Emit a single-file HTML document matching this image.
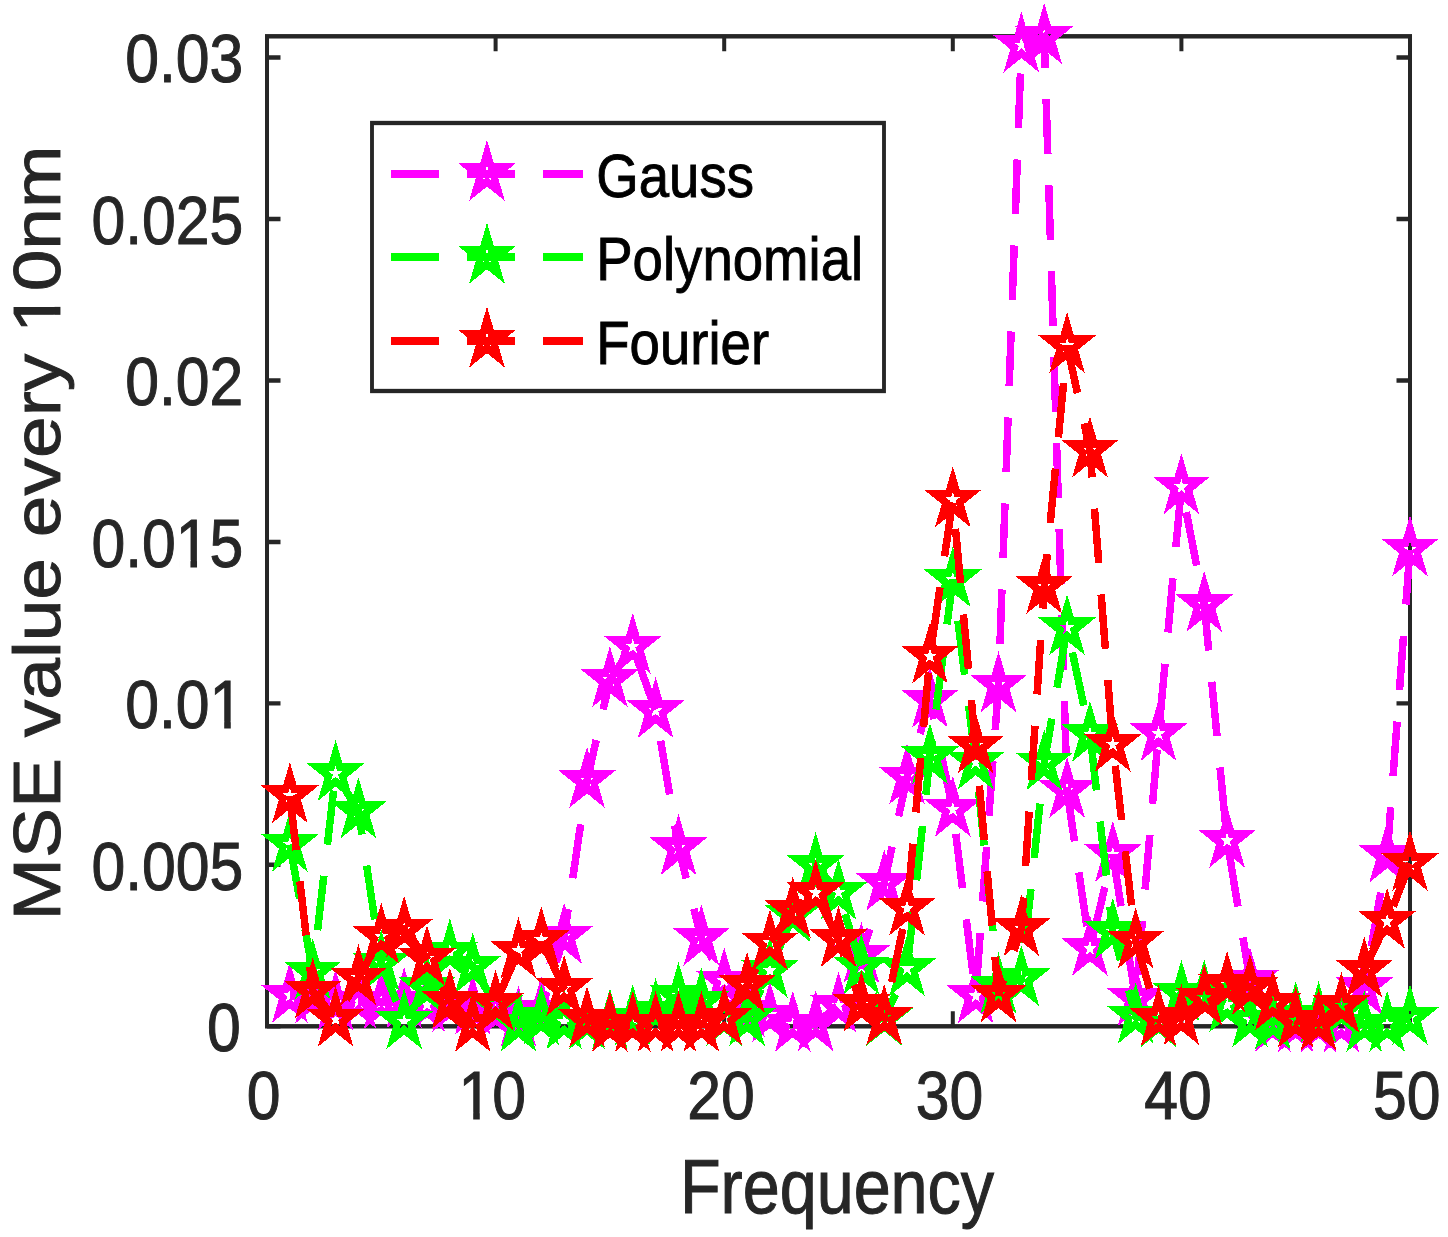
<!DOCTYPE html>
<html lang="en">
<head>
<meta charset="utf-8">
<title>MSE value every 10nm vs Frequency</title>
<style>
html,body{margin:0;padding:0;background:#fff;}
body{width:1448px;height:1237px;overflow:hidden;}
svg{display:block;}
</style>
</head>
<body>
<svg width="1448" height="1237" viewBox="0 0 1448 1237">
<rect width="1448" height="1237" fill="#fff"/>
<g transform="scale(0.9000,1)">
<rect x="296.67" y="36.30" width="1270.00" height="990.00" fill="none" stroke="#262626" stroke-width="4.45"/>
<path d="M296.67,1026.30V1011.30M296.67,36.30V51.30M550.67,1026.30V1011.30M550.67,36.30V51.30M804.67,1026.30V1011.30M804.67,36.30V51.30M1058.67,1026.30V1011.30M1058.67,36.30V51.30M1312.67,1026.30V1011.30M1312.67,36.30V51.30M1566.67,1026.30V1011.30M1566.67,36.30V51.30M296.67,1026.30H311.67M1566.67,1026.30H1551.67M296.67,864.83H311.67M1566.67,864.83H1551.67M296.67,703.37H311.67M1566.67,703.37H1551.67M296.67,541.90H311.67M1566.67,541.90H1551.67M296.67,380.43H311.67M1566.67,380.43H1551.67M296.67,218.97H311.67M1566.67,218.97H1551.67M296.67,57.50H311.67M1566.67,57.50H1551.67" fill="none" stroke="#262626" stroke-width="4.45"/>
<g shape-rendering="crispEdges">
<polyline fill="none" stroke="#ff00ff" stroke-width="8.33" stroke-dasharray="54.6,31.46" stroke-dashoffset="9.50" stroke-linejoin="miter" points="322.07,995.50 347.47,996.50 372.87,1003.00 398.27,1001.30 423.67,1002.00 449.07,1001.00 474.47,1004.40 499.87,1005.00 525.27,1007.50 550.67,1012.00 576.07,1019.50 601.47,1010.00 626.87,936.50 652.27,780.60 677.67,679.90 703.07,646.50 728.47,710.70 753.87,847.80 779.27,938.30 804.67,981.00 830.07,1010.00 855.47,1015.00 880.87,1024.50 906.27,1024.00 931.67,1005.30 957.07,955.60 982.47,883.20 1007.87,777.00 1033.27,700.20 1058.67,809.50 1084.07,995.90 1109.47,685.00 1134.87,45.20 1160.27,36.80 1185.67,790.50 1211.07,948.50 1236.47,854.60 1261.87,998.60 1287.27,733.70 1312.67,487.00 1338.07,604.70 1363.47,840.40 1388.87,980.70 1414.27,1024.50 1439.67,1025.00 1465.07,1025.00 1490.47,1025.00 1515.87,987.70 1541.27,855.30 1566.67,549.10"/>
<path fill="none" stroke="#ff00ff" stroke-width="7.93" stroke-linejoin="miter" stroke-miterlimit="10" d="M322.07,974.55L326.77,989.03L341.99,989.03L329.68,997.97L334.38,1012.45L322.07,1003.50L309.75,1012.45L314.46,997.97L302.14,989.03L317.36,989.03ZM347.47,975.55L352.17,990.03L367.39,990.03L355.08,998.97L359.78,1013.45L347.47,1004.50L335.15,1013.45L339.86,998.97L327.54,990.03L342.76,990.03ZM372.87,982.05L377.57,996.53L392.79,996.53L380.48,1005.47L385.18,1019.95L372.87,1011.00L360.55,1019.95L365.26,1005.47L352.94,996.53L368.16,996.53ZM398.27,980.35L402.97,994.83L418.19,994.83L405.88,1003.77L410.58,1018.25L398.27,1009.30L385.95,1018.25L390.66,1003.77L378.34,994.83L393.56,994.83ZM423.67,981.05L428.37,995.53L443.59,995.53L431.28,1004.47L435.98,1018.95L423.67,1010.00L411.35,1018.95L416.06,1004.47L403.74,995.53L418.96,995.53ZM449.07,980.05L453.77,994.53L468.99,994.53L456.68,1003.47L461.38,1017.95L449.07,1009.00L436.75,1017.95L441.46,1003.47L429.14,994.53L444.36,994.53ZM474.47,983.45L479.17,997.93L494.39,997.93L482.08,1006.87L486.78,1021.35L474.47,1012.40L462.15,1021.35L466.86,1006.87L454.54,997.93L469.76,997.93ZM499.87,984.05L504.57,998.53L519.79,998.53L507.48,1007.47L512.18,1021.95L499.87,1013.00L487.55,1021.95L492.26,1007.47L479.94,998.53L495.16,998.53ZM525.27,986.55L529.97,1001.03L545.19,1001.03L532.88,1009.97L537.58,1024.45L525.27,1015.50L512.95,1024.45L517.66,1009.97L505.34,1001.03L520.56,1001.03ZM550.67,991.05L555.37,1005.53L570.59,1005.53L558.28,1014.47L562.98,1028.95L550.67,1020.00L538.35,1028.95L543.06,1014.47L530.74,1005.53L545.96,1005.53ZM576.07,998.55L580.77,1013.03L595.99,1013.03L583.68,1021.97L588.38,1036.45L576.07,1027.50L563.75,1036.45L568.46,1021.97L556.14,1013.03L571.36,1013.03ZM601.47,989.05L606.17,1003.53L621.39,1003.53L609.08,1012.47L613.78,1026.95L601.47,1018.00L589.15,1026.95L593.86,1012.47L581.54,1003.53L596.76,1003.53ZM626.87,915.55L631.57,930.03L646.79,930.03L634.48,938.97L639.18,953.45L626.87,944.50L614.55,953.45L619.26,938.97L606.94,930.03L622.16,930.03ZM652.27,759.65L656.97,774.13L672.19,774.13L659.88,783.07L664.58,797.55L652.27,788.60L639.95,797.55L644.66,783.07L632.34,774.13L647.56,774.13ZM677.67,658.95L682.37,673.43L697.59,673.43L685.28,682.37L689.98,696.85L677.67,687.90L665.35,696.85L670.06,682.37L657.74,673.43L672.96,673.43ZM703.07,625.55L707.77,640.03L722.99,640.03L710.68,648.97L715.38,663.45L703.07,654.50L690.75,663.45L695.46,648.97L683.14,640.03L698.36,640.03ZM728.47,689.75L733.17,704.23L748.39,704.23L736.08,713.17L740.78,727.65L728.47,718.70L716.15,727.65L720.86,713.17L708.54,704.23L723.76,704.23ZM753.87,826.85L758.57,841.33L773.79,841.33L761.48,850.27L766.18,864.75L753.87,855.80L741.55,864.75L746.26,850.27L733.94,841.33L749.16,841.33ZM779.27,917.35L783.97,931.83L799.19,931.83L786.88,940.77L791.58,955.25L779.27,946.30L766.95,955.25L771.66,940.77L759.34,931.83L774.56,931.83ZM804.67,960.05L809.37,974.53L824.59,974.53L812.28,983.47L816.98,997.95L804.67,989.00L792.35,997.95L797.06,983.47L784.74,974.53L799.96,974.53ZM830.07,989.05L834.77,1003.53L849.99,1003.53L837.68,1012.47L842.38,1026.95L830.07,1018.00L817.75,1026.95L822.46,1012.47L810.14,1003.53L825.36,1003.53ZM855.47,994.05L860.17,1008.53L875.39,1008.53L863.08,1017.47L867.78,1031.95L855.47,1023.00L843.15,1031.95L847.86,1017.47L835.54,1008.53L850.76,1008.53ZM880.87,1003.55L885.57,1018.03L900.79,1018.03L888.48,1026.97L893.18,1041.45L880.87,1032.50L868.55,1041.45L873.26,1026.97L860.94,1018.03L876.16,1018.03ZM906.27,1003.05L910.97,1017.53L926.19,1017.53L913.88,1026.47L918.58,1040.95L906.27,1032.00L893.95,1040.95L898.66,1026.47L886.34,1017.53L901.56,1017.53ZM931.67,984.35L936.37,998.83L951.59,998.83L939.28,1007.77L943.98,1022.25L931.67,1013.30L919.35,1022.25L924.06,1007.77L911.74,998.83L926.96,998.83ZM957.07,934.65L961.77,949.13L976.99,949.13L964.68,958.07L969.38,972.55L957.07,963.60L944.75,972.55L949.46,958.07L937.14,949.13L952.36,949.13ZM982.47,862.25L987.17,876.73L1002.39,876.73L990.08,885.67L994.78,900.15L982.47,891.20L970.15,900.15L974.86,885.67L962.54,876.73L977.76,876.73ZM1007.87,756.05L1012.57,770.53L1027.79,770.53L1015.48,779.47L1020.18,793.95L1007.87,785.00L995.55,793.95L1000.26,779.47L987.94,770.53L1003.16,770.53ZM1033.27,679.25L1037.97,693.73L1053.19,693.73L1040.88,702.67L1045.58,717.15L1033.27,708.20L1020.95,717.15L1025.66,702.67L1013.34,693.73L1028.56,693.73ZM1058.67,788.55L1063.37,803.03L1078.59,803.03L1066.28,811.97L1070.98,826.45L1058.67,817.50L1046.35,826.45L1051.06,811.97L1038.74,803.03L1053.96,803.03ZM1084.07,974.95L1088.77,989.43L1103.99,989.43L1091.68,998.37L1096.38,1012.85L1084.07,1003.90L1071.75,1012.85L1076.46,998.37L1064.14,989.43L1079.36,989.43ZM1109.47,664.05L1114.17,678.53L1129.39,678.53L1117.08,687.47L1121.78,701.95L1109.47,693.00L1097.15,701.95L1101.86,687.47L1089.54,678.53L1104.76,678.53ZM1134.87,24.25L1139.57,38.73L1154.79,38.73L1142.48,47.67L1147.18,62.15L1134.87,53.20L1122.55,62.15L1127.26,47.67L1114.94,38.73L1130.16,38.73ZM1160.27,15.85L1164.97,30.33L1180.19,30.33L1167.88,39.27L1172.58,53.75L1160.27,44.80L1147.95,53.75L1152.66,39.27L1140.34,30.33L1155.56,30.33ZM1185.67,769.55L1190.37,784.03L1205.59,784.03L1193.28,792.97L1197.98,807.45L1185.67,798.50L1173.35,807.45L1178.06,792.97L1165.74,784.03L1180.96,784.03ZM1211.07,927.55L1215.77,942.03L1230.99,942.03L1218.68,950.97L1223.38,965.45L1211.07,956.50L1198.75,965.45L1203.46,950.97L1191.14,942.03L1206.36,942.03ZM1236.47,833.65L1241.17,848.13L1256.39,848.13L1244.08,857.07L1248.78,871.55L1236.47,862.60L1224.15,871.55L1228.86,857.07L1216.54,848.13L1231.76,848.13ZM1261.87,977.65L1266.57,992.13L1281.79,992.13L1269.48,1001.07L1274.18,1015.55L1261.87,1006.60L1249.55,1015.55L1254.26,1001.07L1241.94,992.13L1257.16,992.13ZM1287.27,712.75L1291.97,727.23L1307.19,727.23L1294.88,736.17L1299.58,750.65L1287.27,741.70L1274.95,750.65L1279.66,736.17L1267.34,727.23L1282.56,727.23ZM1312.67,466.05L1317.37,480.53L1332.59,480.53L1320.28,489.47L1324.98,503.95L1312.67,495.00L1300.35,503.95L1305.06,489.47L1292.74,480.53L1307.96,480.53ZM1338.07,583.75L1342.77,598.23L1357.99,598.23L1345.68,607.17L1350.38,621.65L1338.07,612.70L1325.75,621.65L1330.46,607.17L1318.14,598.23L1333.36,598.23ZM1363.47,819.45L1368.17,833.93L1383.39,833.93L1371.08,842.87L1375.78,857.35L1363.47,848.40L1351.15,857.35L1355.86,842.87L1343.54,833.93L1358.76,833.93ZM1388.87,959.75L1393.57,974.23L1408.79,974.23L1396.48,983.17L1401.18,997.65L1388.87,988.70L1376.55,997.65L1381.26,983.17L1368.94,974.23L1384.16,974.23ZM1414.27,1003.55L1418.97,1018.03L1434.19,1018.03L1421.88,1026.97L1426.58,1041.45L1414.27,1032.50L1401.95,1041.45L1406.66,1026.97L1394.34,1018.03L1409.56,1018.03ZM1439.67,1004.05L1444.37,1018.53L1459.59,1018.53L1447.28,1027.47L1451.98,1041.95L1439.67,1033.00L1427.35,1041.95L1432.06,1027.47L1419.74,1018.53L1434.96,1018.53ZM1465.07,1004.05L1469.77,1018.53L1484.99,1018.53L1472.68,1027.47L1477.38,1041.95L1465.07,1033.00L1452.75,1041.95L1457.46,1027.47L1445.14,1018.53L1460.36,1018.53ZM1490.47,1004.05L1495.17,1018.53L1510.39,1018.53L1498.08,1027.47L1502.78,1041.95L1490.47,1033.00L1478.15,1041.95L1482.86,1027.47L1470.54,1018.53L1485.76,1018.53ZM1515.87,966.75L1520.57,981.23L1535.79,981.23L1523.48,990.17L1528.18,1004.65L1515.87,995.70L1503.55,1004.65L1508.26,990.17L1495.94,981.23L1511.16,981.23ZM1541.27,834.35L1545.97,848.83L1561.19,848.83L1548.88,857.77L1553.58,872.25L1541.27,863.30L1528.95,872.25L1533.66,857.77L1521.34,848.83L1536.56,848.83ZM1566.67,528.15L1571.37,542.63L1586.59,542.63L1574.28,551.57L1578.98,566.05L1566.67,557.10L1554.35,566.05L1559.06,551.57L1546.74,542.63L1561.96,542.63Z"/>
<polyline fill="none" stroke="#00ff00" stroke-width="8.33" stroke-dasharray="54.6,31.46" stroke-dashoffset="0.00" stroke-linejoin="miter" points="322.07,844.60 347.47,972.00 372.87,773.70 398.27,811.10 423.67,963.40 449.07,1021.80 474.47,987.60 499.87,952.00 525.27,966.10 550.67,1005.00 576.07,1024.40 601.47,1017.80 626.87,1022.00 652.27,1022.00 677.67,1022.20 703.07,1018.00 728.47,1011.60 753.87,995.90 779.27,1001.10 804.67,1018.80 830.07,1018.60 855.47,970.60"/>
<polyline fill="none" stroke="#00ff00" stroke-width="8.33" stroke-dasharray="54.6,31.46" stroke-dashoffset="81.89" stroke-linejoin="miter" points="855.47,970.60 880.87,915.00 906.27,865.80 931.67,892.50 957.07,967.00 982.47,1018.50 1007.87,968.80 1033.27,756.90 1058.67,579.90 1084.07,762.30 1109.47,986.00 1134.87,978.90 1160.27,763.00 1185.67,627.90 1211.07,734.40 1236.47,931.50 1261.87,1016.40 1287.27,1020.00 1312.67,993.60 1338.07,993.20 1363.47,1005.00 1388.87,1020.00 1414.27,1022.00 1439.67,1015.00 1465.07,1015.00 1490.47,1010.00 1515.87,1024.50 1541.27,1024.50 1566.67,1017.70"/>
<path fill="none" stroke="#00ff00" stroke-width="7.93" stroke-linejoin="miter" stroke-miterlimit="10" d="M322.07,823.65L326.77,838.13L341.99,838.13L329.68,847.07L334.38,861.55L322.07,852.60L309.75,861.55L314.46,847.07L302.14,838.13L317.36,838.13ZM347.47,951.05L352.17,965.53L367.39,965.53L355.08,974.47L359.78,988.95L347.47,980.00L335.15,988.95L339.86,974.47L327.54,965.53L342.76,965.53ZM372.87,752.75L377.57,767.23L392.79,767.23L380.48,776.17L385.18,790.65L372.87,781.70L360.55,790.65L365.26,776.17L352.94,767.23L368.16,767.23ZM398.27,790.15L402.97,804.63L418.19,804.63L405.88,813.57L410.58,828.05L398.27,819.10L385.95,828.05L390.66,813.57L378.34,804.63L393.56,804.63ZM423.67,942.45L428.37,956.93L443.59,956.93L431.28,965.87L435.98,980.35L423.67,971.40L411.35,980.35L416.06,965.87L403.74,956.93L418.96,956.93ZM449.07,1000.85L453.77,1015.33L468.99,1015.33L456.68,1024.27L461.38,1038.75L449.07,1029.80L436.75,1038.75L441.46,1024.27L429.14,1015.33L444.36,1015.33ZM474.47,966.65L479.17,981.13L494.39,981.13L482.08,990.07L486.78,1004.55L474.47,995.60L462.15,1004.55L466.86,990.07L454.54,981.13L469.76,981.13ZM499.87,931.05L504.57,945.53L519.79,945.53L507.48,954.47L512.18,968.95L499.87,960.00L487.55,968.95L492.26,954.47L479.94,945.53L495.16,945.53ZM525.27,945.15L529.97,959.63L545.19,959.63L532.88,968.57L537.58,983.05L525.27,974.10L512.95,983.05L517.66,968.57L505.34,959.63L520.56,959.63ZM550.67,984.05L555.37,998.53L570.59,998.53L558.28,1007.47L562.98,1021.95L550.67,1013.00L538.35,1021.95L543.06,1007.47L530.74,998.53L545.96,998.53ZM576.07,1003.45L580.77,1017.93L595.99,1017.93L583.68,1026.87L588.38,1041.35L576.07,1032.40L563.75,1041.35L568.46,1026.87L556.14,1017.93L571.36,1017.93ZM601.47,996.85L606.17,1011.33L621.39,1011.33L609.08,1020.27L613.78,1034.75L601.47,1025.80L589.15,1034.75L593.86,1020.27L581.54,1011.33L596.76,1011.33ZM626.87,1001.05L631.57,1015.53L646.79,1015.53L634.48,1024.47L639.18,1038.95L626.87,1030.00L614.55,1038.95L619.26,1024.47L606.94,1015.53L622.16,1015.53ZM652.27,1001.05L656.97,1015.53L672.19,1015.53L659.88,1024.47L664.58,1038.95L652.27,1030.00L639.95,1038.95L644.66,1024.47L632.34,1015.53L647.56,1015.53ZM677.67,1001.25L682.37,1015.73L697.59,1015.73L685.28,1024.67L689.98,1039.15L677.67,1030.20L665.35,1039.15L670.06,1024.67L657.74,1015.73L672.96,1015.73ZM703.07,997.05L707.77,1011.53L722.99,1011.53L710.68,1020.47L715.38,1034.95L703.07,1026.00L690.75,1034.95L695.46,1020.47L683.14,1011.53L698.36,1011.53ZM728.47,990.65L733.17,1005.13L748.39,1005.13L736.08,1014.07L740.78,1028.55L728.47,1019.60L716.15,1028.55L720.86,1014.07L708.54,1005.13L723.76,1005.13ZM753.87,974.95L758.57,989.43L773.79,989.43L761.48,998.37L766.18,1012.85L753.87,1003.90L741.55,1012.85L746.26,998.37L733.94,989.43L749.16,989.43ZM779.27,980.15L783.97,994.63L799.19,994.63L786.88,1003.57L791.58,1018.05L779.27,1009.10L766.95,1018.05L771.66,1003.57L759.34,994.63L774.56,994.63ZM804.67,997.85L809.37,1012.33L824.59,1012.33L812.28,1021.27L816.98,1035.75L804.67,1026.80L792.35,1035.75L797.06,1021.27L784.74,1012.33L799.96,1012.33ZM830.07,997.65L834.77,1012.13L849.99,1012.13L837.68,1021.07L842.38,1035.55L830.07,1026.60L817.75,1035.55L822.46,1021.07L810.14,1012.13L825.36,1012.13ZM855.47,949.65L860.17,964.13L875.39,964.13L863.08,973.07L867.78,987.55L855.47,978.60L843.15,987.55L847.86,973.07L835.54,964.13L850.76,964.13ZM880.87,894.05L885.57,908.53L900.79,908.53L888.48,917.47L893.18,931.95L880.87,923.00L868.55,931.95L873.26,917.47L860.94,908.53L876.16,908.53ZM906.27,844.85L910.97,859.33L926.19,859.33L913.88,868.27L918.58,882.75L906.27,873.80L893.95,882.75L898.66,868.27L886.34,859.33L901.56,859.33ZM931.67,871.55L936.37,886.03L951.59,886.03L939.28,894.97L943.98,909.45L931.67,900.50L919.35,909.45L924.06,894.97L911.74,886.03L926.96,886.03ZM957.07,946.05L961.77,960.53L976.99,960.53L964.68,969.47L969.38,983.95L957.07,975.00L944.75,983.95L949.46,969.47L937.14,960.53L952.36,960.53ZM982.47,997.55L987.17,1012.03L1002.39,1012.03L990.08,1020.97L994.78,1035.45L982.47,1026.50L970.15,1035.45L974.86,1020.97L962.54,1012.03L977.76,1012.03ZM1007.87,947.85L1012.57,962.33L1027.79,962.33L1015.48,971.27L1020.18,985.75L1007.87,976.80L995.55,985.75L1000.26,971.27L987.94,962.33L1003.16,962.33ZM1033.27,735.95L1037.97,750.43L1053.19,750.43L1040.88,759.37L1045.58,773.85L1033.27,764.90L1020.95,773.85L1025.66,759.37L1013.34,750.43L1028.56,750.43ZM1058.67,558.95L1063.37,573.43L1078.59,573.43L1066.28,582.37L1070.98,596.85L1058.67,587.90L1046.35,596.85L1051.06,582.37L1038.74,573.43L1053.96,573.43ZM1084.07,741.35L1088.77,755.83L1103.99,755.83L1091.68,764.77L1096.38,779.25L1084.07,770.30L1071.75,779.25L1076.46,764.77L1064.14,755.83L1079.36,755.83ZM1109.47,965.05L1114.17,979.53L1129.39,979.53L1117.08,988.47L1121.78,1002.95L1109.47,994.00L1097.15,1002.95L1101.86,988.47L1089.54,979.53L1104.76,979.53ZM1134.87,957.95L1139.57,972.43L1154.79,972.43L1142.48,981.37L1147.18,995.85L1134.87,986.90L1122.55,995.85L1127.26,981.37L1114.94,972.43L1130.16,972.43ZM1160.27,742.05L1164.97,756.53L1180.19,756.53L1167.88,765.47L1172.58,779.95L1160.27,771.00L1147.95,779.95L1152.66,765.47L1140.34,756.53L1155.56,756.53ZM1185.67,606.95L1190.37,621.43L1205.59,621.43L1193.28,630.37L1197.98,644.85L1185.67,635.90L1173.35,644.85L1178.06,630.37L1165.74,621.43L1180.96,621.43ZM1211.07,713.45L1215.77,727.93L1230.99,727.93L1218.68,736.87L1223.38,751.35L1211.07,742.40L1198.75,751.35L1203.46,736.87L1191.14,727.93L1206.36,727.93ZM1236.47,910.55L1241.17,925.03L1256.39,925.03L1244.08,933.97L1248.78,948.45L1236.47,939.50L1224.15,948.45L1228.86,933.97L1216.54,925.03L1231.76,925.03ZM1261.87,995.45L1266.57,1009.93L1281.79,1009.93L1269.48,1018.87L1274.18,1033.35L1261.87,1024.40L1249.55,1033.35L1254.26,1018.87L1241.94,1009.93L1257.16,1009.93ZM1287.27,999.05L1291.97,1013.53L1307.19,1013.53L1294.88,1022.47L1299.58,1036.95L1287.27,1028.00L1274.95,1036.95L1279.66,1022.47L1267.34,1013.53L1282.56,1013.53ZM1312.67,972.65L1317.37,987.13L1332.59,987.13L1320.28,996.07L1324.98,1010.55L1312.67,1001.60L1300.35,1010.55L1305.06,996.07L1292.74,987.13L1307.96,987.13ZM1338.07,972.25L1342.77,986.73L1357.99,986.73L1345.68,995.67L1350.38,1010.15L1338.07,1001.20L1325.75,1010.15L1330.46,995.67L1318.14,986.73L1333.36,986.73ZM1363.47,984.05L1368.17,998.53L1383.39,998.53L1371.08,1007.47L1375.78,1021.95L1363.47,1013.00L1351.15,1021.95L1355.86,1007.47L1343.54,998.53L1358.76,998.53ZM1388.87,999.05L1393.57,1013.53L1408.79,1013.53L1396.48,1022.47L1401.18,1036.95L1388.87,1028.00L1376.55,1036.95L1381.26,1022.47L1368.94,1013.53L1384.16,1013.53ZM1414.27,1001.05L1418.97,1015.53L1434.19,1015.53L1421.88,1024.47L1426.58,1038.95L1414.27,1030.00L1401.95,1038.95L1406.66,1024.47L1394.34,1015.53L1409.56,1015.53ZM1439.67,994.05L1444.37,1008.53L1459.59,1008.53L1447.28,1017.47L1451.98,1031.95L1439.67,1023.00L1427.35,1031.95L1432.06,1017.47L1419.74,1008.53L1434.96,1008.53ZM1465.07,994.05L1469.77,1008.53L1484.99,1008.53L1472.68,1017.47L1477.38,1031.95L1465.07,1023.00L1452.75,1031.95L1457.46,1017.47L1445.14,1008.53L1460.36,1008.53ZM1490.47,989.05L1495.17,1003.53L1510.39,1003.53L1498.08,1012.47L1502.78,1026.95L1490.47,1018.00L1478.15,1026.95L1482.86,1012.47L1470.54,1003.53L1485.76,1003.53ZM1515.87,1003.55L1520.57,1018.03L1535.79,1018.03L1523.48,1026.97L1528.18,1041.45L1515.87,1032.50L1503.55,1041.45L1508.26,1026.97L1495.94,1018.03L1511.16,1018.03ZM1541.27,1003.55L1545.97,1018.03L1561.19,1018.03L1548.88,1026.97L1553.58,1041.45L1541.27,1032.50L1528.95,1041.45L1533.66,1026.97L1521.34,1018.03L1536.56,1018.03ZM1566.67,996.75L1571.37,1011.23L1586.59,1011.23L1574.28,1020.17L1578.98,1034.65L1566.67,1025.70L1554.35,1034.65L1559.06,1020.17L1546.74,1011.23L1561.96,1011.23Z"/>
<polyline fill="none" stroke="#ff0000" stroke-width="8.33" stroke-dasharray="54.6,31.46" stroke-dashoffset="0.00" stroke-linejoin="miter" points="322.07,795.90 347.47,991.30 372.87,1019.50 398.27,978.00 423.67,936.50 449.07,929.50 474.47,958.70 499.87,1001.20 525.27,1024.60 550.67,1003.30 576.07,951.00 601.47,940.00 626.87,988.60 652.27,1019.80 677.67,1024.50 703.07,1024.50 728.47,1024.50 753.87,1024.50 779.27,1024.50 804.67,1018.00"/>
<polyline fill="none" stroke="#ff0000" stroke-width="8.33" stroke-dasharray="54.6,31.46" stroke-dashoffset="79.55" stroke-linejoin="miter" points="804.67,1018.00 830.07,985.40 855.47,943.00 880.87,910.30 906.27,892.90 931.67,939.80 957.07,1004.60 982.47,1017.50 1007.87,908.20 1033.27,656.20 1058.67,500.00 1084.07,746.00 1109.47,995.00 1134.87,928.80 1160.27,586.40 1185.67,345.80 1211.07,450.20 1236.47,744.50 1261.87,941.20 1287.27,1018.80 1312.67,1017.80 1338.07,998.00 1363.47,984.70 1388.87,987.50 1414.27,1003.20 1439.67,1020.50 1465.07,1023.00 1490.47,1005.60 1515.87,970.30 1541.27,921.50 1566.67,863.70"/>
<path fill="none" stroke="#ff0000" stroke-width="7.93" stroke-linejoin="miter" stroke-miterlimit="10" d="M322.07,774.95L326.77,789.43L341.99,789.43L329.68,798.37L334.38,812.85L322.07,803.90L309.75,812.85L314.46,798.37L302.14,789.43L317.36,789.43ZM347.47,970.35L352.17,984.83L367.39,984.83L355.08,993.77L359.78,1008.25L347.47,999.30L335.15,1008.25L339.86,993.77L327.54,984.83L342.76,984.83ZM372.87,998.55L377.57,1013.03L392.79,1013.03L380.48,1021.97L385.18,1036.45L372.87,1027.50L360.55,1036.45L365.26,1021.97L352.94,1013.03L368.16,1013.03ZM398.27,957.05L402.97,971.53L418.19,971.53L405.88,980.47L410.58,994.95L398.27,986.00L385.95,994.95L390.66,980.47L378.34,971.53L393.56,971.53ZM423.67,915.55L428.37,930.03L443.59,930.03L431.28,938.97L435.98,953.45L423.67,944.50L411.35,953.45L416.06,938.97L403.74,930.03L418.96,930.03ZM449.07,908.55L453.77,923.03L468.99,923.03L456.68,931.97L461.38,946.45L449.07,937.50L436.75,946.45L441.46,931.97L429.14,923.03L444.36,923.03ZM474.47,937.75L479.17,952.23L494.39,952.23L482.08,961.17L486.78,975.65L474.47,966.70L462.15,975.65L466.86,961.17L454.54,952.23L469.76,952.23ZM499.87,980.25L504.57,994.73L519.79,994.73L507.48,1003.67L512.18,1018.15L499.87,1009.20L487.55,1018.15L492.26,1003.67L479.94,994.73L495.16,994.73ZM525.27,1003.65L529.97,1018.13L545.19,1018.13L532.88,1027.07L537.58,1041.55L525.27,1032.60L512.95,1041.55L517.66,1027.07L505.34,1018.13L520.56,1018.13ZM550.67,982.35L555.37,996.83L570.59,996.83L558.28,1005.77L562.98,1020.25L550.67,1011.30L538.35,1020.25L543.06,1005.77L530.74,996.83L545.96,996.83ZM576.07,930.05L580.77,944.53L595.99,944.53L583.68,953.47L588.38,967.95L576.07,959.00L563.75,967.95L568.46,953.47L556.14,944.53L571.36,944.53ZM601.47,919.05L606.17,933.53L621.39,933.53L609.08,942.47L613.78,956.95L601.47,948.00L589.15,956.95L593.86,942.47L581.54,933.53L596.76,933.53ZM626.87,967.65L631.57,982.13L646.79,982.13L634.48,991.07L639.18,1005.55L626.87,996.60L614.55,1005.55L619.26,991.07L606.94,982.13L622.16,982.13ZM652.27,998.85L656.97,1013.33L672.19,1013.33L659.88,1022.27L664.58,1036.75L652.27,1027.80L639.95,1036.75L644.66,1022.27L632.34,1013.33L647.56,1013.33ZM677.67,1003.55L682.37,1018.03L697.59,1018.03L685.28,1026.97L689.98,1041.45L677.67,1032.50L665.35,1041.45L670.06,1026.97L657.74,1018.03L672.96,1018.03ZM703.07,1003.55L707.77,1018.03L722.99,1018.03L710.68,1026.97L715.38,1041.45L703.07,1032.50L690.75,1041.45L695.46,1026.97L683.14,1018.03L698.36,1018.03ZM728.47,1003.55L733.17,1018.03L748.39,1018.03L736.08,1026.97L740.78,1041.45L728.47,1032.50L716.15,1041.45L720.86,1026.97L708.54,1018.03L723.76,1018.03ZM753.87,1003.55L758.57,1018.03L773.79,1018.03L761.48,1026.97L766.18,1041.45L753.87,1032.50L741.55,1041.45L746.26,1026.97L733.94,1018.03L749.16,1018.03ZM779.27,1003.55L783.97,1018.03L799.19,1018.03L786.88,1026.97L791.58,1041.45L779.27,1032.50L766.95,1041.45L771.66,1026.97L759.34,1018.03L774.56,1018.03ZM804.67,997.05L809.37,1011.53L824.59,1011.53L812.28,1020.47L816.98,1034.95L804.67,1026.00L792.35,1034.95L797.06,1020.47L784.74,1011.53L799.96,1011.53ZM830.07,964.45L834.77,978.93L849.99,978.93L837.68,987.87L842.38,1002.35L830.07,993.40L817.75,1002.35L822.46,987.87L810.14,978.93L825.36,978.93ZM855.47,922.05L860.17,936.53L875.39,936.53L863.08,945.47L867.78,959.95L855.47,951.00L843.15,959.95L847.86,945.47L835.54,936.53L850.76,936.53ZM880.87,889.35L885.57,903.83L900.79,903.83L888.48,912.77L893.18,927.25L880.87,918.30L868.55,927.25L873.26,912.77L860.94,903.83L876.16,903.83ZM906.27,871.95L910.97,886.43L926.19,886.43L913.88,895.37L918.58,909.85L906.27,900.90L893.95,909.85L898.66,895.37L886.34,886.43L901.56,886.43ZM931.67,918.85L936.37,933.33L951.59,933.33L939.28,942.27L943.98,956.75L931.67,947.80L919.35,956.75L924.06,942.27L911.74,933.33L926.96,933.33ZM957.07,983.65L961.77,998.13L976.99,998.13L964.68,1007.07L969.38,1021.55L957.07,1012.60L944.75,1021.55L949.46,1007.07L937.14,998.13L952.36,998.13ZM982.47,996.55L987.17,1011.03L1002.39,1011.03L990.08,1019.97L994.78,1034.45L982.47,1025.50L970.15,1034.45L974.86,1019.97L962.54,1011.03L977.76,1011.03ZM1007.87,887.25L1012.57,901.73L1027.79,901.73L1015.48,910.67L1020.18,925.15L1007.87,916.20L995.55,925.15L1000.26,910.67L987.94,901.73L1003.16,901.73ZM1033.27,635.25L1037.97,649.73L1053.19,649.73L1040.88,658.67L1045.58,673.15L1033.27,664.20L1020.95,673.15L1025.66,658.67L1013.34,649.73L1028.56,649.73ZM1058.67,479.05L1063.37,493.53L1078.59,493.53L1066.28,502.47L1070.98,516.95L1058.67,508.00L1046.35,516.95L1051.06,502.47L1038.74,493.53L1053.96,493.53ZM1084.07,725.05L1088.77,739.53L1103.99,739.53L1091.68,748.47L1096.38,762.95L1084.07,754.00L1071.75,762.95L1076.46,748.47L1064.14,739.53L1079.36,739.53ZM1109.47,974.05L1114.17,988.53L1129.39,988.53L1117.08,997.47L1121.78,1011.95L1109.47,1003.00L1097.15,1011.95L1101.86,997.47L1089.54,988.53L1104.76,988.53ZM1134.87,907.85L1139.57,922.33L1154.79,922.33L1142.48,931.27L1147.18,945.75L1134.87,936.80L1122.55,945.75L1127.26,931.27L1114.94,922.33L1130.16,922.33ZM1160.27,565.45L1164.97,579.93L1180.19,579.93L1167.88,588.87L1172.58,603.35L1160.27,594.40L1147.95,603.35L1152.66,588.87L1140.34,579.93L1155.56,579.93ZM1185.67,324.85L1190.37,339.33L1205.59,339.33L1193.28,348.27L1197.98,362.75L1185.67,353.80L1173.35,362.75L1178.06,348.27L1165.74,339.33L1180.96,339.33ZM1211.07,429.25L1215.77,443.73L1230.99,443.73L1218.68,452.67L1223.38,467.15L1211.07,458.20L1198.75,467.15L1203.46,452.67L1191.14,443.73L1206.36,443.73ZM1236.47,723.55L1241.17,738.03L1256.39,738.03L1244.08,746.97L1248.78,761.45L1236.47,752.50L1224.15,761.45L1228.86,746.97L1216.54,738.03L1231.76,738.03ZM1261.87,920.25L1266.57,934.73L1281.79,934.73L1269.48,943.67L1274.18,958.15L1261.87,949.20L1249.55,958.15L1254.26,943.67L1241.94,934.73L1257.16,934.73ZM1287.27,997.85L1291.97,1012.33L1307.19,1012.33L1294.88,1021.27L1299.58,1035.75L1287.27,1026.80L1274.95,1035.75L1279.66,1021.27L1267.34,1012.33L1282.56,1012.33ZM1312.67,996.85L1317.37,1011.33L1332.59,1011.33L1320.28,1020.27L1324.98,1034.75L1312.67,1025.80L1300.35,1034.75L1305.06,1020.27L1292.74,1011.33L1307.96,1011.33ZM1338.07,977.05L1342.77,991.53L1357.99,991.53L1345.68,1000.47L1350.38,1014.95L1338.07,1006.00L1325.75,1014.95L1330.46,1000.47L1318.14,991.53L1333.36,991.53ZM1363.47,963.75L1368.17,978.23L1383.39,978.23L1371.08,987.17L1375.78,1001.65L1363.47,992.70L1351.15,1001.65L1355.86,987.17L1343.54,978.23L1358.76,978.23ZM1388.87,966.55L1393.57,981.03L1408.79,981.03L1396.48,989.97L1401.18,1004.45L1388.87,995.50L1376.55,1004.45L1381.26,989.97L1368.94,981.03L1384.16,981.03ZM1414.27,982.25L1418.97,996.73L1434.19,996.73L1421.88,1005.67L1426.58,1020.15L1414.27,1011.20L1401.95,1020.15L1406.66,1005.67L1394.34,996.73L1409.56,996.73ZM1439.67,999.55L1444.37,1014.03L1459.59,1014.03L1447.28,1022.97L1451.98,1037.45L1439.67,1028.50L1427.35,1037.45L1432.06,1022.97L1419.74,1014.03L1434.96,1014.03ZM1465.07,1002.05L1469.77,1016.53L1484.99,1016.53L1472.68,1025.47L1477.38,1039.95L1465.07,1031.00L1452.75,1039.95L1457.46,1025.47L1445.14,1016.53L1460.36,1016.53ZM1490.47,984.65L1495.17,999.13L1510.39,999.13L1498.08,1008.07L1502.78,1022.55L1490.47,1013.60L1478.15,1022.55L1482.86,1008.07L1470.54,999.13L1485.76,999.13ZM1515.87,949.35L1520.57,963.83L1535.79,963.83L1523.48,972.77L1528.18,987.25L1515.87,978.30L1503.55,987.25L1508.26,972.77L1495.94,963.83L1511.16,963.83ZM1541.27,900.55L1545.97,915.03L1561.19,915.03L1548.88,923.97L1553.58,938.45L1541.27,929.50L1528.95,938.45L1533.66,923.97L1521.34,915.03L1536.56,915.03ZM1566.67,842.75L1571.37,857.23L1586.59,857.23L1574.28,866.17L1578.98,880.65L1566.67,871.70L1554.35,880.65L1559.06,866.17L1546.74,857.23L1561.96,857.23Z"/>
</g>
<rect x="413.33" y="123.00" width="568.89" height="268.00" fill="#fff" stroke="#262626" stroke-width="4.30"/>
<g shape-rendering="crispEdges">
<path d="M434.33,174.00H648.00" fill="none" stroke="#ff00ff" stroke-width="8.33" stroke-dasharray="53.5,30.9"/>
<path d="M541.11,152.65L545.81,167.13L561.04,167.13L548.72,176.07L553.43,190.55L541.11,181.60L528.80,190.55L533.50,176.07L521.19,167.13L536.41,167.13Z" fill="none" stroke="#ff00ff" stroke-width="7.93" stroke-linejoin="miter" stroke-miterlimit="10"/>
<path d="M434.33,256.80H648.00" fill="none" stroke="#00ff00" stroke-width="8.33" stroke-dasharray="53.5,30.9"/>
<path d="M541.11,235.45L545.81,249.93L561.04,249.93L548.72,258.87L553.43,273.35L541.11,264.40L528.80,273.35L533.50,258.87L521.19,249.93L536.41,249.93Z" fill="none" stroke="#00ff00" stroke-width="7.93" stroke-linejoin="miter" stroke-miterlimit="10"/>
<path d="M434.33,340.70H648.00" fill="none" stroke="#ff0000" stroke-width="8.33" stroke-dasharray="53.5,30.9"/>
<path d="M541.11,319.35L545.81,333.83L561.04,333.83L548.72,342.77L553.43,357.25L541.11,348.30L528.80,357.25L533.50,342.77L521.19,333.83L536.41,333.83Z" fill="none" stroke="#ff0000" stroke-width="7.93" stroke-linejoin="miter" stroke-miterlimit="10"/>
</g>
</g>
<g font-family="'Liberation Sans', sans-serif">
<text transform="translate(263.70,1119.30) scale(0.9100,1.0300)" font-size="66.70" text-anchor="middle" fill="#262626" stroke="#262626" stroke-width="1.0">0</text>
<text transform="translate(492.30,1119.30) scale(0.9100,1.0300)" font-size="66.70" text-anchor="middle" fill="#262626" stroke="#262626" stroke-width="1.0">10</text>
<text transform="translate(720.90,1119.30) scale(0.9100,1.0300)" font-size="66.70" text-anchor="middle" fill="#262626" stroke="#262626" stroke-width="1.0">20</text>
<text transform="translate(949.50,1119.30) scale(0.9100,1.0300)" font-size="66.70" text-anchor="middle" fill="#262626" stroke="#262626" stroke-width="1.0">30</text>
<text transform="translate(1178.10,1119.30) scale(0.9100,1.0300)" font-size="66.70" text-anchor="middle" fill="#262626" stroke="#262626" stroke-width="1.0">40</text>
<text transform="translate(1406.70,1119.30) scale(0.9100,1.0300)" font-size="66.70" text-anchor="middle" fill="#262626" stroke="#262626" stroke-width="1.0">50</text>
<text transform="translate(240.70,1051.10) scale(0.9100,1.0300)" font-size="66.70" text-anchor="end" fill="#262626" stroke="#262626" stroke-width="1.0">0</text>
<text transform="translate(243.30,889.63) scale(0.9100,1.0300)" font-size="66.70" text-anchor="end" fill="#262626" stroke="#262626" stroke-width="1.0">0.005</text>
<text transform="translate(243.30,728.17) scale(0.9100,1.0300)" font-size="66.70" text-anchor="end" fill="#262626" stroke="#262626" stroke-width="1.0">0.01</text>
<text transform="translate(243.30,566.70) scale(0.9100,1.0300)" font-size="66.70" text-anchor="end" fill="#262626" stroke="#262626" stroke-width="1.0">0.015</text>
<text transform="translate(243.30,405.23) scale(0.9100,1.0300)" font-size="66.70" text-anchor="end" fill="#262626" stroke="#262626" stroke-width="1.0">0.02</text>
<text transform="translate(243.30,243.77) scale(0.9100,1.0300)" font-size="66.70" text-anchor="end" fill="#262626" stroke="#262626" stroke-width="1.0">0.025</text>
<text transform="translate(243.30,82.30) scale(0.9100,1.0300)" font-size="66.70" text-anchor="end" fill="#262626" stroke="#262626" stroke-width="1.0">0.03</text>
<text transform="translate(837.00,1212.50) scale(0.9050,1.0300)" font-size="73.50" text-anchor="middle" fill="#262626" stroke="#262626" stroke-width="1.0">Frequency</text>
<text transform="translate(60.40,533.00) scale(0.9050,1.0200) rotate(-90)" font-size="73.50" text-anchor="middle" fill="#262626" stroke="#262626" stroke-width="1.0">MSE value every 10nm</text>
<text transform="translate(596.20,196.60) scale(0.9100,1.0200)" font-size="60.00" text-anchor="start" fill="#000" stroke="#000" stroke-width="0.9">Gauss</text>
<text transform="translate(596.20,279.50) scale(0.9100,1.0200)" font-size="60.00" text-anchor="start" fill="#000" stroke="#000" stroke-width="0.9">Polynomial</text>
<text transform="translate(596.20,363.70) scale(0.9100,1.0200)" font-size="60.00" text-anchor="start" fill="#000" stroke="#000" stroke-width="0.9">Fourier</text>
<rect x="461.91" y="1112.65" width="11.29" height="8.56" fill="#fff"/><rect x="479.78" y="1112.65" width="10.82" height="8.56" fill="#fff"/>
<rect x="212.91" y="721.52" width="11.29" height="8.56" fill="#fff"/><rect x="230.78" y="721.52" width="10.82" height="8.56" fill="#fff"/>
<rect x="179.15" y="560.05" width="11.29" height="8.56" fill="#fff"/><rect x="197.02" y="560.05" width="10.82" height="8.56" fill="#fff"/>
<rect x="53.68" y="314.83" width="8.57" height="13.78" fill="#fff"/>
<rect x="53.68" y="293.68" width="8.57" height="13.20" fill="#fff"/>
</g>
</svg>
</body>
</html>
